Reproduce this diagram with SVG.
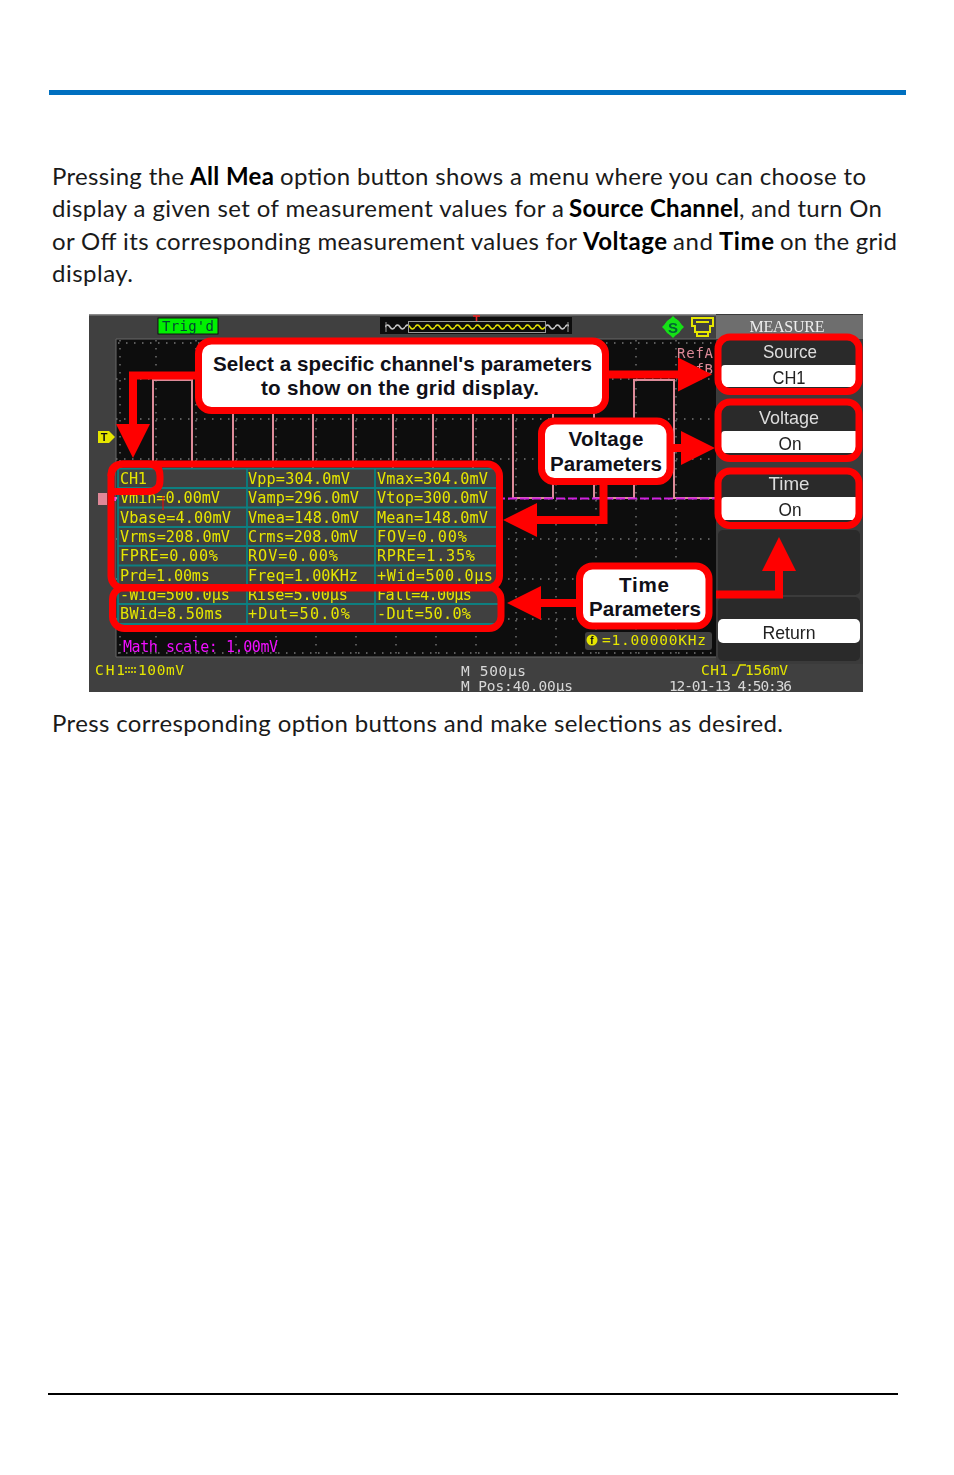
<svg xmlns="http://www.w3.org/2000/svg" width="954" height="1475" viewBox="0 0 954 1475">
<style>
.b{font-family:Lato,"Open Sans",sans-serif;font-size:24px;fill:#1a1a1a}
.bb{font-weight:700;fill:#000}
.m{font-family:"DejaVu Sans Mono",monospace;font-size:15.2px;fill:#e6e600}
.st{font-family:"DejaVu Sans Mono",monospace;font-size:14.5px;fill:#e6e600}
.w{fill:#d8d8d8}
.co{font-family:"Liberation Sans",Arial,sans-serif;font-weight:700;font-size:20.6px;fill:#101018;text-anchor:middle}
.btn{font-family:"Liberation Sans",Arial,sans-serif;font-size:19px;text-anchor:middle}
.red{fill:none;stroke:#f00;stroke-width:7}
.callout{fill:#fff;stroke:#f00;stroke-width:7}
.arrow{fill:none;stroke:#f00;stroke-width:8;stroke-linejoin:miter;marker-end:url(#head)}
.wave{fill:none;stroke:#dd8a98;stroke-width:2}
.dot{stroke:#777;stroke-width:1.4;stroke-dasharray:1.5 6.5;fill:none}
.cell{fill:none;stroke:#0a7f80;stroke-width:1.8}
.pn{fill:#2b2b2b}
.wh{fill:#fff}
</style>
<defs>
<marker id="head" markerUnits="userSpaceOnUse" markerWidth="34" markerHeight="34" viewBox="0 0 34 34" refX="0" refY="17" orient="auto"><polygon points="0,0 34,17 0,34" fill="#f00"/></marker>
<pattern id="zig" width="10" height="10" patternUnits="userSpaceOnUse" x="385" y="322"><path d="M0 5Q2.500 1 5 5T10 5" fill="none" stroke="#e6e600" stroke-width="1.500"/></pattern>
<pattern id="zigg" width="10" height="10" patternUnits="userSpaceOnUse" x="385" y="322"><path d="M0 5Q2.500 1 5 5T10 5" fill="none" stroke="#ccc" stroke-width="1.500"/></pattern>
<clipPath id="scr"><rect x="89" y="314" width="774" height="378"/></clipPath>
<filter id="soft" x="0" y="0" width="1" height="1"><feGaussianBlur stdDeviation="0.45"/></filter>
</defs>
<rect width="954" height="1475" fill="#fff"/>
<rect x="49" y="90" width="857" height="5" fill="#0070c0"/>
<rect x="48" y="1393" width="850" height="2" fill="#000"/>
<g id="body-text">
<text class="b" x="52" y="185" textLength="132">Pressing the</text>
<text class="b bb" x="190" y="185" textLength="84">All Mea</text>
<text class="b" x="280" y="185" textLength="586">option button shows a menu where you can choose to</text>
<text class="b" x="52" y="217" textLength="512">display a given set of measurement values for a</text>
<text class="b bb" x="569" y="217" textLength="170">Source Channel</text>
<text class="b" x="739" y="217" textLength="143">, and turn On</text>
<text class="b" x="52" y="250" textLength="525">or Off its corresponding measurement values for</text>
<text class="b bb" x="583" y="250" textLength="84">Voltage</text>
<text class="b" x="673" y="250" textLength="40">and</text>
<text class="b bb" x="719" y="250" textLength="55">Time</text>
<text class="b" x="780" y="250" textLength="117">on the grid</text>
<text class="b" x="52" y="282" textLength="81">display.</text>
<text class="b" x="52" y="732" textLength="731">Press corresponding option buttons and make selections as desired.</text>
</g>
<g clip-path="url(#scr)">
<g id="screen" filter="url(#soft)">
<rect x="89" y="314" width="774" height="378" fill="#404040"/>
<rect x="89" y="314" width="774" height="1.500" fill="#8a8a8a"/>
<rect x="116" y="339" width="600" height="318" fill="#0e0e0e"/>
<rect x="116" y="338.500" width="600" height="1" fill="#666"/>
<rect x="115.500" y="339" width="1" height="318" fill="#666"/>
<rect x="116" y="656.500" width="600" height="1" fill="#666"/>
<path class="dot" d="M156 340V656M196 340V656M236 340V656M276 340V656M316 340V656M356 340V656M396 340V656M436 340V656M476 340V656M516 340V656M556 340V656M596 340V656M636 340V656M676 340V656M116 379H716M116 419H716M116 459H716M116 499H716M116 539H716M116 579H716M116 619H716M118 343H716M118 653H716M120 340V656"/>
<path class="wave" d="M116 498H153V380H192V498H233V380H273V498H313V380H353V498H393V380H433V498H473V380H513V498H553V380H594V498H634V380H674V498H715"/>
<path d="M400 498.500H715" fill="none" stroke="#d020e0" stroke-width="2" stroke-dasharray="9 3"/>
<text x="677" y="358" font-family="DejaVu Sans Mono,monospace" font-size="14" fill="#dd8a98" textLength="36">RefA</text>
<text x="677" y="374" font-family="DejaVu Sans Mono,monospace" font-size="14" fill="#dd8a98" textLength="36">RefB</text>
<g id="trig"><rect x="158" y="318" width="60" height="16" fill="#00f000" stroke="#111" stroke-width="1"/><text x="162" y="331" font-family="DejaVu Sans Mono,monospace" font-size="14" fill="#043" textLength="52">Trig'd</text></g>
<g id="overview"><rect x="380" y="317" width="192" height="17" fill="#111"/>
<rect x="385" y="322" width="24" height="10" fill="url(#zigg)"/><rect x="409" y="322" width="136" height="10" fill="url(#zig)"/><rect x="545" y="322" width="24" height="10" fill="url(#zigg)"/>
<rect x="408.500" y="321.500" width="137" height="11" fill="none" stroke="#999"/>
<path d="M386 322V332M568 322V332" stroke="#999" fill="none"/>
<path d="M473 316H480M476.500 316V321" stroke="#f02020" stroke-width="1.500" fill="none"/></g>
<g id="icons"><circle cx="673" cy="327" r="8.500" fill="#18e018"/><polygon points="673,316 677,320 684,327 677,334 673,338 669,334 662,327 669,320" fill="#18e018"/><text x="673" y="332.500" text-anchor="middle" font-family="Liberation Sans,sans-serif" font-weight="700" font-size="15" fill="#063">S</text>
<path d="M692 318H713V326H710V332H695V326H692ZM696 322H709M697 332V336H708V332" fill="none" stroke="#e6e600" stroke-width="2"/></g>
<g id="markers"><polygon points="98,431 109,431 115,437 109,443 98,443" fill="#e6e600"/><text x="104" y="441" text-anchor="middle" font-family="Liberation Sans,sans-serif" font-weight="700" font-size="11" fill="#111">T</text>
<rect x="98" y="493" width="9" height="12" fill="#e08898"/><rect x="113" y="497" width="3" height="4" fill="#f040f0"/></g>
<g id="table">
<rect x="118" y="468" width="380" height="156" rx="3" fill="#404040"/>
<path class="cell" d="M118 468.500H498M118 488H498M118 507.500H498M118 527H498M118 546H498M118 565.500H498M118 585H498M118 604H498M118 624H498M118 468V624M247 468V624M375 468V624"/>
<text class="m" x="120" y="484" textLength="27">CH1</text><text class="m" x="248" y="484" textLength="102">Vpp=304.0mV</text><text class="m" x="377" y="484" textLength="111">Vmax=304.0mV</text>
<text class="m" x="120" y="503" textLength="100">Vmin=0.00mV</text><text class="m" x="248" y="503" textLength="111">Vamp=296.0mV</text><text class="m" x="377" y="503" textLength="111">Vtop=300.0mV</text>
<text class="m" x="120" y="523" textLength="111">Vbase=4.00mV</text><text class="m" x="248" y="523" textLength="111">Vmea=148.0mV</text><text class="m" x="377" y="523" textLength="111">Mean=148.0mV</text>
<text class="m" x="120" y="542" textLength="110">Vrms=208.0mV</text><text class="m" x="248" y="542" textLength="110">Crms=208.0mV</text><text class="m" x="377" y="542" textLength="90">FOV=0.00%</text>
<text class="m" x="120" y="561" textLength="98">FPRE=0.00%</text><text class="m" x="248" y="561" textLength="90">ROV=0.00%</text><text class="m" x="377" y="561" textLength="98">RPRE=1.35%</text>
<text class="m" x="120" y="581" textLength="90">Prd=1.00ms</text><text class="m" x="248" y="581" textLength="110">Freq=1.00KHz</text><text class="m" x="377" y="581" textLength="116">+Wid=500.0μs</text>
<text class="m" x="120" y="600" textLength="110">-Wid=500.0μs</text><text class="m" x="248" y="600" textLength="100">Rise=5.00μs</text><text class="m" x="377" y="600" textLength="95">Fall=4.00μs</text>
<text class="m" x="120" y="619" textLength="103">BWid=8.50ms</text><text class="m" x="248" y="619" textLength="102">+Dut=50.0%</text><text class="m" x="377" y="619" textLength="94">-Dut=50.0%</text>
</g>
<text id="math" x="123" y="652" font-family="DejaVu Sans Mono,monospace" font-size="15" fill="#f010ff" textLength="155">Math scale: 1.00mV</text>
<g id="freq"><rect x="585" y="632" width="127" height="18" rx="3" fill="#404040"/><circle cx="592" cy="640" r="5.500" fill="#e6e600"/><text x="592" y="644" text-anchor="middle" font-family="Liberation Sans,sans-serif" font-weight="700" font-size="10" fill="#111">f</text><text class="st" x="602" y="645" textLength="104">=1.00000KHz</text></g>
<g id="menu">
<rect x="716" y="314" width="147" height="350" fill="#3a3a3a"/>
<rect x="716" y="315" width="147" height="24" fill="#6e6e6e"/>
<text x="787" y="332" text-anchor="middle" font-family="Liberation Serif,serif" font-size="16" fill="#eee" textLength="75">MEASURE</text>
<rect class="pn" x="718" y="337" width="141" height="54" rx="6"/><rect class="wh" x="721" y="365" width="138" height="22" rx="4"/>
<rect class="pn" x="718" y="402" width="141" height="56" rx="6"/><rect class="wh" x="721" y="431" width="138" height="22" rx="4"/>
<rect class="pn" x="718" y="471" width="141" height="54" rx="6"/><rect class="wh" x="721" y="497" width="138" height="23" rx="4"/>
<rect class="pn" x="718" y="530" width="142" height="65" rx="5"/>
<rect class="pn" x="718" y="597" width="142" height="64" rx="5"/><rect class="wh" x="718" y="619" width="142" height="24" rx="5"/>
<text class="btn" x="790" y="358" fill="#ddd" textLength="54" lengthAdjust="spacingAndGlyphs">Source</text><text class="btn" x="789" y="384" fill="#222" textLength="33" lengthAdjust="spacingAndGlyphs">CH1</text>
<text class="btn" x="789" y="424" fill="#ddd" textLength="60" lengthAdjust="spacingAndGlyphs">Voltage</text><text class="btn" x="790" y="450" fill="#222" textLength="23" lengthAdjust="spacingAndGlyphs">On</text>
<text class="btn" x="789" y="490" fill="#ddd" textLength="41" lengthAdjust="spacingAndGlyphs">Time</text><text class="btn" x="790" y="516" fill="#222" textLength="23" lengthAdjust="spacingAndGlyphs">On</text>
<text class="btn" x="789" y="639" fill="#222" textLength="53" lengthAdjust="spacingAndGlyphs">Return</text>
</g>
<g id="status">
<text class="st" x="95" y="675" textLength="30">CH1</text><path d="M125 668H136M125 672H136" stroke="#e6e600" stroke-width="1.500" stroke-dasharray="2 1" fill="none"/><text class="st" x="138" y="675" textLength="46">100mV</text>
<text class="st w" x="461" y="676" textLength="65">M 500μs</text>
<text class="st w" x="461" y="691" textLength="112">M Pos:40.00μs</text>
<text class="st" x="701" y="675" textLength="27">CH1</text><path d="M732 675H736L740 665H746" stroke="#e6e600" stroke-width="1.500" fill="none"/><text class="st" x="745" y="675" textLength="43">156mV</text>
<text class="st w" x="669" y="691" textLength="123">12-01-13 4:50:36</text>
</g>
</g>
</g>
<g id="connectors">
<path class="arrow" d="M198 375.500H133V424"/>
<path class="arrow" d="M606 374.500H678"/>
<path class="arrow" d="M670 448H681"/>
<path class="arrow" d="M603.500 482V520H537"/>
<path class="arrow" d="M579 603H541"/>
<path class="arrow" d="M716 594.500H779V571"/>
<path d="M163 496V510" stroke="#f00" stroke-width="1"/>
</g>
<g id="highlight-table"><rect class="red" x="111" y="464" width="388.500" height="124" rx="12"/></g>
<g id="highlight-time"><rect class="red" x="112.500" y="587.500" width="388.500" height="41" rx="12"/></g>
<g id="highlight-ch1"><path class="red" d="M111 476Q111 464 123 464H148Q160 464 160 476V480Q160 491.500 148 491.500H111"/></g>
<g id="highlight-source"><rect class="red" x="718" y="337" width="141" height="54.500" rx="12"/></g>
<g id="highlight-voltage"><rect class="red" x="718" y="402" width="141" height="56.500" rx="12"/></g>
<g id="highlight-timebtn"><rect class="red" x="718" y="471" width="141" height="54.500" rx="12"/></g>
<g id="callout-select"><rect class="callout" x="198.500" y="341" width="407" height="69.500" rx="13"/>
<text class="co" x="402.500" y="371" textLength="379">Select a specific channel's parameters</text>
<text class="co" x="400" y="395" textLength="278">to show on the grid display.</text></g>
<g id="callout-voltage"><rect class="callout" x="541.500" y="421" width="128.500" height="60.500" rx="13"/>
<text class="co" x="606" y="446" textLength="75">Voltage</text>
<text class="co" x="606" y="471" textLength="112">Parameters</text></g>
<g id="callout-time"><rect class="callout" x="579.500" y="566" width="129.500" height="60" rx="13"/>
<text class="co" x="644" y="592" textLength="50">Time</text>
<text class="co" x="645" y="616" textLength="112">Parameters</text></g>
</svg>
